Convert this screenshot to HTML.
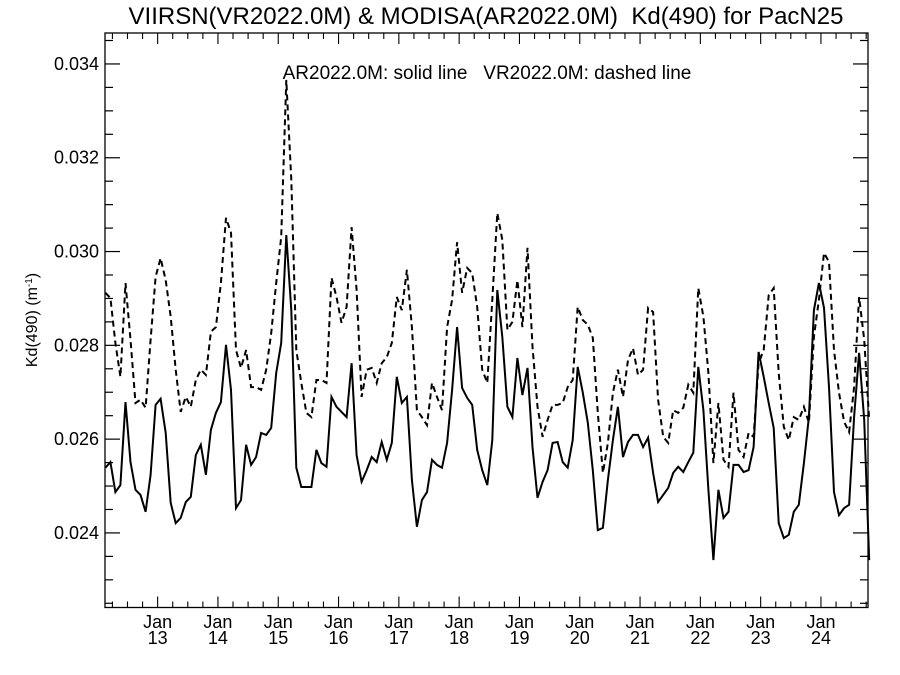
<!DOCTYPE html>
<html><head><meta charset="utf-8">
<style>
body{margin:0;background:#fff;}
svg{display:block;font-family:"Liberation Sans",sans-serif;}
</style></head>
<body>
<svg id="chart" width="900" height="675" viewBox="0 0 900 675" xmlns="http://www.w3.org/2000/svg">
<rect x="0" y="0" width="900" height="675" fill="#fff"/>
<text x="486" y="24" font-size="24" text-anchor="middle" xml:space="preserve">VIIRSN(VR2022.0M) &amp; MODISA(AR2022.0M)  Kd(490) for PacN25</text>
<text x="487" y="79" font-size="19" text-anchor="middle" xml:space="preserve">AR2022.0M: solid line   VR2022.0M: dashed line</text>
<text transform="translate(37,320) rotate(-90)" font-size="16" text-anchor="middle">Kd(490) (m<tspan baseline-shift="super" font-size="10">-1</tspan>)</text>
<g id="axes"></g>
<g id="series"></g>
</svg>
<script>
const startYear = 2012.133;
const yTickValues = [0.024, 0.026, 0.028, 0.030, 0.032, 0.034];
const yTickLabels = ["0.024", "0.026", "0.028", "0.030", "0.032", "0.034"];
const xTickYears = [2013,2014,2015,2016,2017,2018,2019,2020,2021,2022,2023,2024];
const xTickLabels = ["13","14","15","16","17","18","19","20","21","22","23","24"];
// monthly values, units of 1e-3 m^-1
const modisaSolid = [25.39,25.51,24.87,25.02,26.79,25.51,24.92,24.81,24.45,25.24,26.73,26.86,26.13,24.64,24.21,24.32,24.66,24.77,25.66,25.88,25.24,26.20,26.56,26.79,28.01,27.05,24.53,24.70,25.88,25.45,25.62,26.13,26.09,26.24,27.41,28.05,30.35,28.75,25.39,24.98,24.98,24.98,25.77,25.49,25.41,26.90,26.69,26.58,26.47,27.62,25.66,25.09,25.34,25.62,25.51,25.94,25.56,25.92,27.33,26.77,26.90,25.13,24.13,24.70,24.87,25.56,25.45,25.39,25.92,27.05,28.39,27.09,26.88,26.73,25.77,25.34,25.02,25.98,29.18,28.18,26.69,26.47,27.73,26.94,27.52,25.83,24.75,25.09,25.34,25.92,25.94,25.51,25.39,25.98,27.54,26.99,26.35,25.34,24.06,24.11,25.13,25.98,26.69,25.62,25.94,26.09,26.09,25.83,26.03,25.28,24.66,24.81,24.96,25.28,25.41,25.30,25.51,25.71,27.54,26.62,24.92,23.42,24.92,24.32,24.45,25.45,25.45,25.30,25.34,25.83,27.86,27.33,26.77,26.24,24.21,23.89,23.96,24.45,24.60,25.49,26.47,28.75,29.33,28.80,27.11,24.87,24.38,24.53,24.60,26.47,27.84,26.41,23.42];
const viirsDashed = [29.12,29.01,28.05,27.33,29.33,28.12,26.77,26.84,26.67,28.12,29.46,29.86,29.39,28.61,27.48,26.58,26.90,26.69,27.26,27.48,27.37,28.29,28.39,29.33,30.72,30.40,27.90,27.52,27.90,27.11,27.11,27.05,27.48,28.26,29.33,30.31,33.66,31.53,27.90,27.20,26.56,26.47,27.26,27.26,27.20,29.44,29.03,28.48,28.82,30.52,29.18,26.90,27.48,27.52,27.20,27.62,27.75,28.05,29.03,28.75,29.61,28.39,26.62,26.47,26.30,27.20,26.90,26.62,28.39,28.97,30.20,29.12,29.65,29.54,28.82,27.48,27.20,28.97,30.82,30.25,28.33,28.50,29.39,28.39,30.08,27.97,26.69,26.05,26.41,26.73,26.73,26.77,27.11,27.26,28.82,28.54,28.44,28.16,26.56,25.28,25.92,26.99,27.48,26.90,27.69,27.94,27.37,27.48,28.80,28.71,26.84,26.05,25.92,26.62,26.56,26.67,27.16,26.99,29.22,28.61,27.41,25.49,26.77,25.56,25.41,26.99,25.77,25.62,26.13,26.05,27.62,27.90,29.07,29.22,27.41,26.26,25.98,26.47,26.41,26.69,26.35,28.18,28.97,29.97,29.78,27.90,26.99,26.37,26.15,27.11,29.03,28.12,26.41];

const NS = "http://www.w3.org/2000/svg";
const L = 105, R = 868, T = 33, B = 607.5;
const yMin = 0.02241, yMax = 0.03466;
const xMin = 2012.127, xMax = 2024.78;
function sx(t){ return L + (t - xMin) / (xMax - xMin) * (R - L); }
function sy(v){ return B - (v - yMin) / (yMax - yMin) * (B - T); }
function mk(tag, attrs, parent){ const e = document.createElementNS(NS, tag); for (const k in attrs) e.setAttribute(k, attrs[k]); parent.appendChild(e); return e; }

const axes = document.getElementById('axes');
const frame = mk('rect', {x:L, y:T, width:R-L, height:B-T, fill:'none', stroke:'#000', 'stroke-width':1.3}, axes);



for (let v = 0.0225; v <= 0.0347; v += 0.0005) {
  const vv = Math.round(v * 10000) / 10000;
  const major = Math.abs(vv * 500 - Math.round(vv * 500)) < 1e-6;
  const len = major ? 15 : 8;
  const y = sy(vv);
  const t1 = mk('line', {x1:L, x2:L+len, y1:y, y2:y, stroke:'#000', 'stroke-width':1.2}, axes);
  
  
  const t2 = mk('line', {x1:R, x2:R-len, y1:y, y2:y, stroke:'#000', 'stroke-width':1.2}, axes);
  
  
}
yTickValues.forEach((v, i) => {
  const t = mk('text', {x:L-6, y:sy(v)+6, 'font-size':18, 'text-anchor':'end'}, axes);
  t.textContent = yTickLabels[i];
  
  
});
for (let q = 2012.25; q < xMax; q += 0.25) {
  const major = Math.abs(q - Math.round(q)) < 1e-6;
  const len = major ? 11 : 6;
  const x = sx(q);
  if (x < L) continue;
  const b = mk('line', {x1:x, x2:x, y1:B, y2:B-len, stroke:'#000', 'stroke-width':1.1}, axes);
  
  
  const tp = mk('line', {x1:x, x2:x, y1:T, y2:T+len, stroke:'#000', 'stroke-width':1.1}, axes);
  
  
}
xTickYears.forEach((yr, i) => {
  const x = sx(yr);
  const a = mk('text', {x:x, y:628, 'font-size':18, 'text-anchor':'middle'}, axes);
  a.textContent = 'Jan';
  
  
  const b = mk('text', {x:x, y:644, 'font-size':18, 'text-anchor':'middle'}, axes);
  b.textContent = xTickLabels[i];
  
  
});

const series = document.getElementById('series');
function pts(arr){ return arr.map((v, i) => sx(startYear + i / 12).toFixed(1) + ',' + sy(v / 1000).toFixed(1)).join(' '); }
const d = mk('polyline', {points: pts(viirsDashed), fill:'none', stroke:'#000', 'stroke-width':2, 'stroke-dasharray':'6,4'}, series);


const s = mk('polyline', {points: pts(modisaSolid), fill:'none', stroke:'#000', 'stroke-width':2}, series);


</script>
</body></html>
